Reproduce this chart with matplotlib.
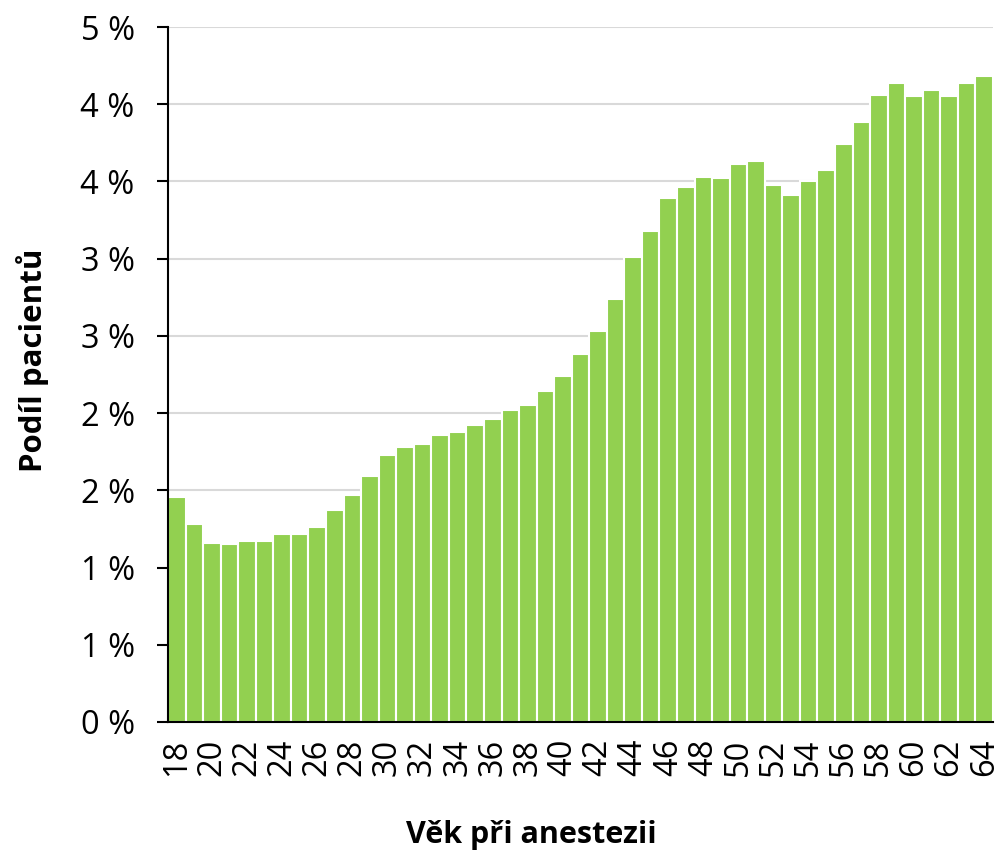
import matplotlib.pyplot as plt
import numpy as np

# vek pri anestezii (18-64) a podil pacientu v %
vek = list(range(18, 65))
podil = [1.46, 1.28, 1.16, 1.15, 1.17, 1.17, 1.215, 1.22, 1.26, 1.37,
         1.47, 1.59, 1.73, 1.78, 1.80, 1.86, 1.88, 1.925, 1.96, 2.02,
         2.05, 2.14, 2.24, 2.385, 2.53, 2.74, 3.01, 3.18, 3.39, 3.465,
         3.53, 3.52, 3.61, 3.63, 3.475, 3.415, 3.50, 3.575, 3.74, 3.885,
         4.06, 4.14, 4.055, 4.09, 4.055, 4.14, 4.18]

y_ticks = [0, 0.5, 1.0, 1.5, 2.0, 2.5, 3.0, 3.5, 4.0, 4.5]
y_labels = ['0 %', '1 %', '1 %', '2 %', '2 %', '3 %', '3 %', '4 %', '4 %', '5 %']
x_ticks = list(range(18, 65, 2))

plt.rcParams['font.family'] = ['Open Sans', 'DejaVu Sans']

fig = plt.figure(figsize=(10.02, 8.58), dpi=100)
ax = fig.add_axes([168 / 1002, 1 - 722 / 858, (993 - 168) / 1002, (722 - 27) / 858])

ax.bar(vek, podil, width=1.0, color='#92d050', edgecolor='white', linewidth=1.5, zorder=3)

ax.set_xlim(17.5, 64.5)
ax.set_ylim(0, 4.5)
ax.set_yticks(y_ticks)
ax.set_yticklabels(y_labels, fontsize=23.5)
ax.set_xticks(x_ticks)
ax.set_xticklabels([str(v) for v in x_ticks], rotation=90, fontsize=23.5)

ax.grid(axis='y', color='#d9d9d9', linewidth=1.5, zorder=0)
ax.set_axisbelow(True)
for s in ['top', 'right']:
    ax.spines[s].set_visible(False)
for s in ['left', 'bottom']:
    ax.spines[s].set_linewidth(1.5)
    ax.spines[s].set_zorder(4)
ax.tick_params(axis='y', length=8, width=1.5, pad=16)
ax.tick_params(axis='x', length=0, pad=12)

ax.set_ylabel('Podíl pacientů', fontsize=22.5, fontweight='bold')
ax.set_xlabel('Věk při anestezii', fontsize=22, fontweight='bold')
ax.yaxis.set_label_coords((33 - 168) / 825, (722 - 360) / 695)
ax.xaxis.set_label_coords((531 - 168) / 825, -(835 - 722) / 695)
ax.xaxis.label.set_va('center')
ax.yaxis.label.set_va('center')

fig.savefig('out.png', dpi=100)
